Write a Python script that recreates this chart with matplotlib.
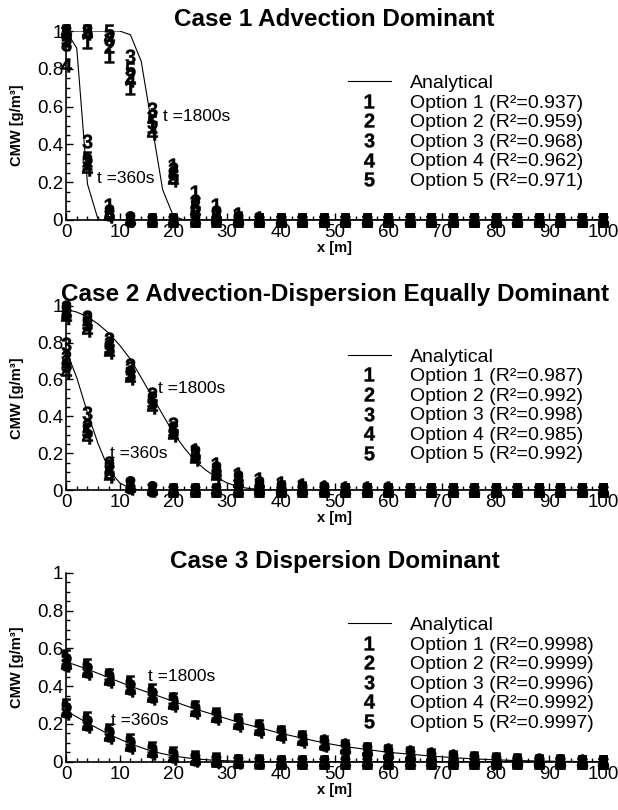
import matplotlib
matplotlib.use("Agg")
import matplotlib.pyplot as plt
from matplotlib.lines import Line2D
from matplotlib.ticker import MultipleLocator, FuncFormatter

plt.rcParams["font.family"] = ["Liberation Sans", "DejaVu Sans"]
plt.rcParams["mathtext.fontset"] = "custom"
plt.rcParams["mathtext.rm"] = "Liberation Sans"
plt.rcParams["mathtext.bf"] = "Liberation Sans:bold"

# sampling points of the numerical options
x_pts = [0, 4, 8, 12, 16, 20, 24, 28, 32, 36, 40, 44, 48, 52, 56, 60, 64, 68, 72, 76, 80, 84, 88, 92, 96, 100]

titles = ["Case 1 Advection Dominant",
          "Case 2 Advection-Dispersion Equally Dominant",
          "Case 3 Dispersion Dominant"]

r2_labels = [["0.937", "0.959", "0.968", "0.962", "0.971"],
             ["0.987", "0.992", "0.998", "0.985", "0.992"],
             ["0.9998", "0.9999", "0.9996", "0.9992", "0.9997"]]

# analytical solutions (x, C)
c1_ana_360_x = [0, 2, 4, 6, 100]
c1_ana_360 = [1.0, 0.91, 0.19, 0.0, 0.0]
c1_ana_1800_x = [0, 10, 12, 14, 16, 18, 20, 22, 100]
c1_ana_1800 = [1.0, 1.0, 0.98, 0.84, 0.50, 0.16, 0.02, 0.0, 0.0]

c2_ana_360_x = [0, 2, 4, 6, 8, 10, 12, 14, 100]
c2_ana_360 = [0.76, 0.61, 0.42, 0.25, 0.11, 0.04, 0.01, 0.0, 0.0]
c2_ana_1800_x = [0, 2, 4, 6, 8, 10, 12, 14, 16, 18, 20, 22, 24, 26, 28, 30, 32, 34, 36, 38, 100]
c2_ana_1800 = [0.98, 0.965, 0.94, 0.90, 0.85, 0.785, 0.71, 0.61, 0.51, 0.41, 0.31, 0.23,
               0.16, 0.11, 0.07, 0.04, 0.02, 0.01, 0.005, 0.0, 0.0]

c3_ana_360_x = [0, 4, 8, 12, 16, 20, 24, 28, 32, 36, 40, 100]
c3_ana_360 = [0.27, 0.205, 0.145, 0.095, 0.055, 0.03, 0.015, 0.007, 0.003, 0.001, 0.0, 0.0]
c3_ana_1800_x = x_pts
c3_ana_1800 = [0.53, 0.49, 0.445, 0.40, 0.36, 0.32, 0.28, 0.245, 0.21, 0.18, 0.15, 0.125, 0.10,
               0.08, 0.065, 0.05, 0.04, 0.03, 0.022, 0.015, 0.01, 0.006, 0.004, 0.002, 0.001, 0.0]

# numerical options 1..5 at t=360s and t=1800s
c1_360 = [
    [1.00, 0.30, 0.08, 0.01, 0.0, 0.0, 0.0, 0.0, 0.0, 0.0, 0.0, 0.0, 0.0, 0.0, 0.0, 0.0, 0.0, 0.0, 0.0, 0.0, 0.0, 0.0, 0.0, 0.0, 0.0, 0.0],
    [0.95, 0.32, 0.05, 0.01, 0.0, 0.0, 0.0, 0.0, 0.0, 0.0, 0.0, 0.0, 0.0, 0.0, 0.0, 0.0, 0.0, 0.0, 0.0, 0.0, 0.0, 0.0, 0.0, 0.0, 0.0, 0.0],
    [0.93, 0.42, 0.04, 0.0, 0.0, 0.0, 0.0, 0.0, 0.0, 0.0, 0.0, 0.0, 0.0, 0.0, 0.0, 0.0, 0.0, 0.0, 0.0, 0.0, 0.0, 0.0, 0.0, 0.0, 0.0, 0.0],
    [0.82, 0.27, 0.02, 0.0, 0.0, 0.0, 0.0, 0.0, 0.0, 0.0, 0.0, 0.0, 0.0, 0.0, 0.0, 0.0, 0.0, 0.0, 0.0, 0.0, 0.0, 0.0, 0.0, 0.0, 0.0, 0.0],
    [0.96, 0.33, 0.03, 0.0, 0.0, 0.0, 0.0, 0.0, 0.0, 0.0, 0.0, 0.0, 0.0, 0.0, 0.0, 0.0, 0.0, 0.0, 0.0, 0.0, 0.0, 0.0, 0.0, 0.0, 0.0, 0.0],
]
c1_1800 = [
    [1.0, 0.94, 0.87, 0.70, 0.50, 0.29, 0.15, 0.08, 0.03, 0.01, 0.0, 0.0, 0.0, 0.0, 0.0, 0.0, 0.0, 0.0, 0.0, 0.0, 0.0, 0.0, 0.0, 0.0, 0.0, 0.0],
    [1.0, 1.00, 0.92, 0.76, 0.55, 0.27, 0.10, 0.04, 0.01, 0.0, 0.0, 0.0, 0.0, 0.0, 0.0, 0.0, 0.0, 0.0, 0.0, 0.0, 0.0, 0.0, 0.0, 0.0, 0.0, 0.0],
    [1.0, 1.00, 0.96, 0.87, 0.59, 0.25, 0.08, 0.03, 0.01, 0.0, 0.0, 0.0, 0.0, 0.0, 0.0, 0.0, 0.0, 0.0, 0.0, 0.0, 0.0, 0.0, 0.0, 0.0, 0.0, 0.0],
    [1.0, 0.99, 0.97, 0.74, 0.46, 0.21, 0.05, 0.01, 0.0, 0.0, 0.0, 0.0, 0.0, 0.0, 0.0, 0.0, 0.0, 0.0, 0.0, 0.0, 0.0, 0.0, 0.0, 0.0, 0.0, 0.0],
    [1.0, 1.00, 1.00, 0.80, 0.52, 0.23, 0.07, 0.02, 0.01, 0.0, 0.0, 0.0, 0.0, 0.0, 0.0, 0.0, 0.0, 0.0, 0.0, 0.0, 0.0, 0.0, 0.0, 0.0, 0.0, 0.0],
]

c2_360 = [
    [0.70, 0.33, 0.12, 0.03, 0.01, 0.0, 0.0, 0.0, 0.0, 0.0, 0.0, 0.0, 0.0, 0.0, 0.0, 0.0, 0.0, 0.0, 0.0, 0.0, 0.0, 0.0, 0.0, 0.0, 0.0, 0.0],
    [0.72, 0.35, 0.13, 0.04, 0.01, 0.0, 0.0, 0.0, 0.0, 0.0, 0.0, 0.0, 0.0, 0.0, 0.0, 0.0, 0.0, 0.0, 0.0, 0.0, 0.0, 0.0, 0.0, 0.0, 0.0, 0.0],
    [0.79, 0.42, 0.15, 0.04, 0.01, 0.0, 0.0, 0.0, 0.0, 0.0, 0.0, 0.0, 0.0, 0.0, 0.0, 0.0, 0.0, 0.0, 0.0, 0.0, 0.0, 0.0, 0.0, 0.0, 0.0, 0.0],
    [0.64, 0.29, 0.08, 0.01, 0.0, 0.0, 0.0, 0.0, 0.0, 0.0, 0.0, 0.0, 0.0, 0.0, 0.0, 0.0, 0.0, 0.0, 0.0, 0.0, 0.0, 0.0, 0.0, 0.0, 0.0, 0.0],
    [0.68, 0.32, 0.10, 0.02, 0.0, 0.0, 0.0, 0.0, 0.0, 0.0, 0.0, 0.0, 0.0, 0.0, 0.0, 0.0, 0.0, 0.0, 0.0, 0.0, 0.0, 0.0, 0.0, 0.0, 0.0, 0.0],
]
c2_1800 = [
    [0.97, 0.91, 0.78, 0.64, 0.49, 0.33, 0.22, 0.14, 0.09, 0.06, 0.04, 0.03, 0.02, 0.01, 0.01, 0.01, 0.0, 0.0, 0.0, 0.0, 0.0, 0.0, 0.0, 0.0, 0.0, 0.0],
    [0.98, 0.93, 0.82, 0.68, 0.52, 0.36, 0.20, 0.11, 0.06, 0.03, 0.02, 0.01, 0.01, 0.0, 0.0, 0.0, 0.0, 0.0, 0.0, 0.0, 0.0, 0.0, 0.0, 0.0, 0.0, 0.0],
    [0.99, 0.94, 0.80, 0.66, 0.50, 0.34, 0.21, 0.12, 0.07, 0.04, 0.02, 0.01, 0.0, 0.0, 0.0, 0.0, 0.0, 0.0, 0.0, 0.0, 0.0, 0.0, 0.0, 0.0, 0.0, 0.0],
    [0.94, 0.87, 0.75, 0.61, 0.45, 0.30, 0.17, 0.08, 0.04, 0.02, 0.01, 0.0, 0.0, 0.0, 0.0, 0.0, 0.0, 0.0, 0.0, 0.0, 0.0, 0.0, 0.0, 0.0, 0.0, 0.0],
    [0.96, 0.90, 0.77, 0.63, 0.48, 0.32, 0.19, 0.10, 0.05, 0.03, 0.02, 0.01, 0.0, 0.0, 0.0, 0.0, 0.0, 0.0, 0.0, 0.0, 0.0, 0.0, 0.0, 0.0, 0.0, 0.0],
]

c3_360 = [
    [0.29, 0.22, 0.16, 0.11, 0.07, 0.04, 0.02, 0.01, 0.005, 0.002, 0.0, 0.0, 0.0, 0.0, 0.0, 0.0, 0.0, 0.0, 0.0, 0.0, 0.0, 0.0, 0.0, 0.0, 0.0, 0.0],
    [0.28, 0.21, 0.15, 0.10, 0.06, 0.035, 0.018, 0.008, 0.004, 0.001, 0.0, 0.0, 0.0, 0.0, 0.0, 0.0, 0.0, 0.0, 0.0, 0.0, 0.0, 0.0, 0.0, 0.0, 0.0, 0.0],
    [0.27, 0.20, 0.14, 0.09, 0.055, 0.03, 0.015, 0.007, 0.003, 0.001, 0.0, 0.0, 0.0, 0.0, 0.0, 0.0, 0.0, 0.0, 0.0, 0.0, 0.0, 0.0, 0.0, 0.0, 0.0, 0.0],
    [0.26, 0.19, 0.13, 0.08, 0.045, 0.02, 0.01, 0.004, 0.001, 0.0, 0.0, 0.0, 0.0, 0.0, 0.0, 0.0, 0.0, 0.0, 0.0, 0.0, 0.0, 0.0, 0.0, 0.0, 0.0, 0.0],
    [0.30, 0.23, 0.17, 0.115, 0.075, 0.045, 0.025, 0.012, 0.006, 0.003, 0.0, 0.0, 0.0, 0.0, 0.0, 0.0, 0.0, 0.0, 0.0, 0.0, 0.0, 0.0, 0.0, 0.0, 0.0, 0.0],
]
c3_1800 = [
    [0.55, 0.50, 0.46, 0.41, 0.37, 0.33, 0.29, 0.25, 0.22, 0.19, 0.16, 0.13, 0.11, 0.09, 0.07, 0.06, 0.05, 0.04, 0.03, 0.02, 0.015, 0.01, 0.01, 0.005, 0.005, 0.0],
    [0.54, 0.49, 0.45, 0.40, 0.36, 0.32, 0.28, 0.245, 0.21, 0.18, 0.15, 0.125, 0.10, 0.08, 0.065, 0.05, 0.04, 0.03, 0.02, 0.015, 0.01, 0.006, 0.004, 0.002, 0.001, 0.0],
    [0.52, 0.48, 0.44, 0.39, 0.35, 0.31, 0.275, 0.24, 0.205, 0.175, 0.145, 0.12, 0.095, 0.075, 0.06, 0.045, 0.035, 0.025, 0.02, 0.012, 0.008, 0.005, 0.003, 0.002, 0.001, 0.0],
    [0.51, 0.47, 0.43, 0.38, 0.34, 0.30, 0.265, 0.23, 0.195, 0.165, 0.135, 0.11, 0.09, 0.07, 0.055, 0.04, 0.03, 0.02, 0.015, 0.01, 0.006, 0.004, 0.002, 0.001, 0.0, 0.0],
    [0.56, 0.51, 0.46, 0.42, 0.38, 0.33, 0.29, 0.255, 0.22, 0.19, 0.16, 0.13, 0.105, 0.085, 0.07, 0.055, 0.045, 0.035, 0.025, 0.018, 0.012, 0.008, 0.005, 0.003, 0.001, 0.0],
]

cases = [
    (c1_ana_360_x, c1_ana_360, c1_ana_1800_x, c1_ana_1800, c1_360, c1_1800),
    (c2_ana_360_x, c2_ana_360, c2_ana_1800_x, c2_ana_1800, c2_360, c2_1800),
    (c3_ana_360_x, c3_ana_360, c3_ana_1800_x, c3_ana_1800, c3_360, c3_1800),
]

# (x, y) of the "t =" labels in data coords
t_labels = [[(18.0, 0.55), (5.8, 0.22)],
            [(17.2, 0.55), (8.2, 0.20)],
            [(15.3, 0.45), (8.4, 0.22)]]

axes_rects = [[0.1068, 0.7284, 0.869, 0.2333],
              [0.1068, 0.3947, 0.869, 0.2280],
              [0.1068, 0.0596, 0.869, 0.2330]]

fig = plt.figure(figsize=(6.18, 8.10), dpi=100)
MS = 10
MEW = 0.3

for k, (ax_x360, ana360, ax_x1800, ana1800, num360, num1800) in enumerate(cases):
    ax = fig.add_axes(axes_rects[k])
    ax.plot(ax_x360, ana360, color="k", lw=0.8)
    ax.plot(ax_x1800, ana1800, color="k", lw=0.8)
    for i in range(5):
        mk = r"$\mathbf{%d}$" % (i + 1)
        ax.plot(x_pts, num360[i], ls="none", marker=mk, color="k",
                markersize=MS, markeredgewidth=MEW, clip_on=False)
        ax.plot(x_pts, num1800[i], ls="none", marker=mk, color="k",
                markersize=MS, markeredgewidth=MEW, clip_on=False)

    (tx1, ty1), (tx2, ty2) = t_labels[k]
    ax.text(tx1, ty1, "t =1800s", fontsize=12.5, va="center", ha="left")
    ax.text(tx2, ty2, "t =360s", fontsize=12.5, va="center", ha="left")

    ax.set_xlim(0, 100)
    ax.set_ylim(0, 1)
    for s in ["top", "right"]:
        ax.spines[s].set_visible(False)
    for s in ["left", "bottom"]:
        ax.spines[s].set_linewidth(1.2)
    ax.xaxis.set_major_locator(MultipleLocator(10))
    ax.xaxis.set_minor_locator(MultipleLocator(2))
    ax.yaxis.set_major_locator(MultipleLocator(0.2))
    ax.yaxis.set_minor_locator(MultipleLocator(0.05))
    ax.yaxis.set_major_formatter(FuncFormatter(lambda v, p: "%g" % round(v, 2)))
    ax.tick_params(which="both", direction="in", width=1.0)
    ax.tick_params(which="major", length=5, labelsize=13.5)
    ax.tick_params(which="minor", length=3)
    ax.tick_params(axis="x", pad=3)
    ax.tick_params(axis="y", pad=2)
    ax.set_xlabel("x [m]", fontsize=10.5, fontweight="bold", labelpad=0)
    ax.set_ylabel("CMW [g/m\u00b3]", fontsize=10.5, fontweight="bold", labelpad=9)
    ax.set_title(titles[k], fontsize=17.5, fontweight="bold", pad=3)

    handles = [Line2D([], [], color="k", lw=0.8)]
    labels = ["Analytical"]
    for i in range(5):
        handles.append(Line2D([], [], ls="none", marker=r"$\mathbf{%d}$" % (i + 1),
                              color="k", markersize=MS, markeredgewidth=MEW))
        labels.append("Option %d (R\u00b2=%s)" % (i + 1, r2_labels[k][i]))
    ax.legend(handles, labels, loc="upper left", bbox_to_anchor=(0.525, 0.77),
              frameon=False, fontsize=14, borderpad=0, borderaxespad=0,
              handlelength=2.2, handletextpad=1.0, labelspacing=0.1)

fig.savefig("out.png", dpi=100)
